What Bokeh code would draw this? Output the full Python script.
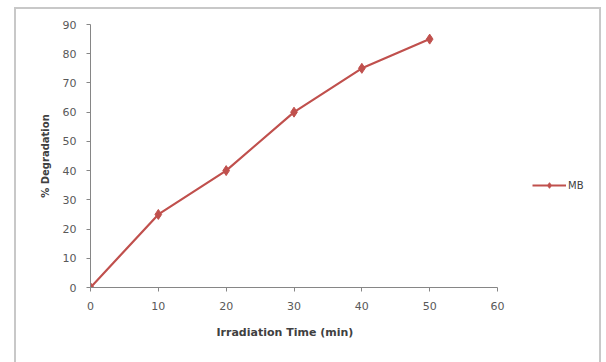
from bokeh.plotting import figure
from bokeh.models import Range1d, Legend, LegendItem, FixedTicker, Title
from bokeh.embed import file_html
from bokeh.resources import INLINE

time_min = [0, 10, 20, 30, 40, 50]
degradation = [0, 25, 40, 60, 75, 85]
series_name = "MB"
x_label = "Irradiation Time (min)"
y_label = "% Degradation"
x_ticks = [0, 10, 20, 30, 40, 50, 60]
y_ticks = [0, 10, 20, 30, 40, 50, 60, 70, 80, 90]

RED = "#C0504D"
FONT = "DejaVu Sans"

# frame extends to the right of the x axis (which stops at 60) to hold the legend
p = figure(width=587, height=356, output_backend="svg", toolbar_location=None,
           x_range=Range1d(0, 74.15), y_range=Range1d(0, 90),
           min_border_left=74, min_border_right=10, min_border_top=15, min_border_bottom=78)
p.outline_line_color = None
p.grid.grid_line_color = None
p.background_fill_color = "white"
p.border_fill_color = "white"
p.styles = {"position": "absolute", "left": "14px", "top": "7px",
            "border-left": "2px solid #C8C8C8", "border-top": "2px solid #C8C8C8",
            "border-right": "2px solid #C8C8C8"}

r_line = p.line(time_min, degradation, line_color=RED, line_width=2.2)
r_pts = p.scatter(time_min, degradation, marker="diamond", size=10, color=RED)

p.xaxis.ticker = FixedTicker(ticks=x_ticks)
p.yaxis.ticker = FixedTicker(ticks=y_ticks)
p.xaxis.bounds = (0, 60)
for ax in (p.xaxis[0], p.yaxis[0]):
    ax.axis_line_color = "#868686"
    ax.major_tick_line_color = "#868686"
    ax.major_tick_in = 0
    ax.major_tick_out = 4
    ax.minor_tick_line_color = None
    ax.major_label_text_font = FONT
    ax.major_label_text_font_size = "11px"
    ax.major_label_text_color = "#595959"
    ax.axis_label_text_font = FONT
    ax.axis_label_text_font_size = "10px"
    ax.axis_label_text_font_style = "bold"
    ax.axis_label_text_color = "#404040"
p.yaxis.axis_label = y_label
p.xaxis.major_label_standoff = 10
p.yaxis.major_label_standoff = 10
p.yaxis.axis_label_standoff = 9

xt = Title(text=x_label, align="left", offset=126, standoff=23,
           text_font=FONT, text_font_size="11px", text_font_style="bold", text_color="#404040")
p.add_layout(xt, "below")

legend = Legend(items=[LegendItem(label=series_name, renderers=[r_line, r_pts])],
                location=(442, 95), background_fill_alpha=0, border_line_color=None,
                label_text_font=FONT, label_text_font_size="10px", label_text_color="#404040",
                glyph_width=34, glyph_height=14, padding=0, margin=0, label_standoff=2)
p.add_layout(legend, "center")

open("out.html", "w").write(file_html(p, INLINE))
